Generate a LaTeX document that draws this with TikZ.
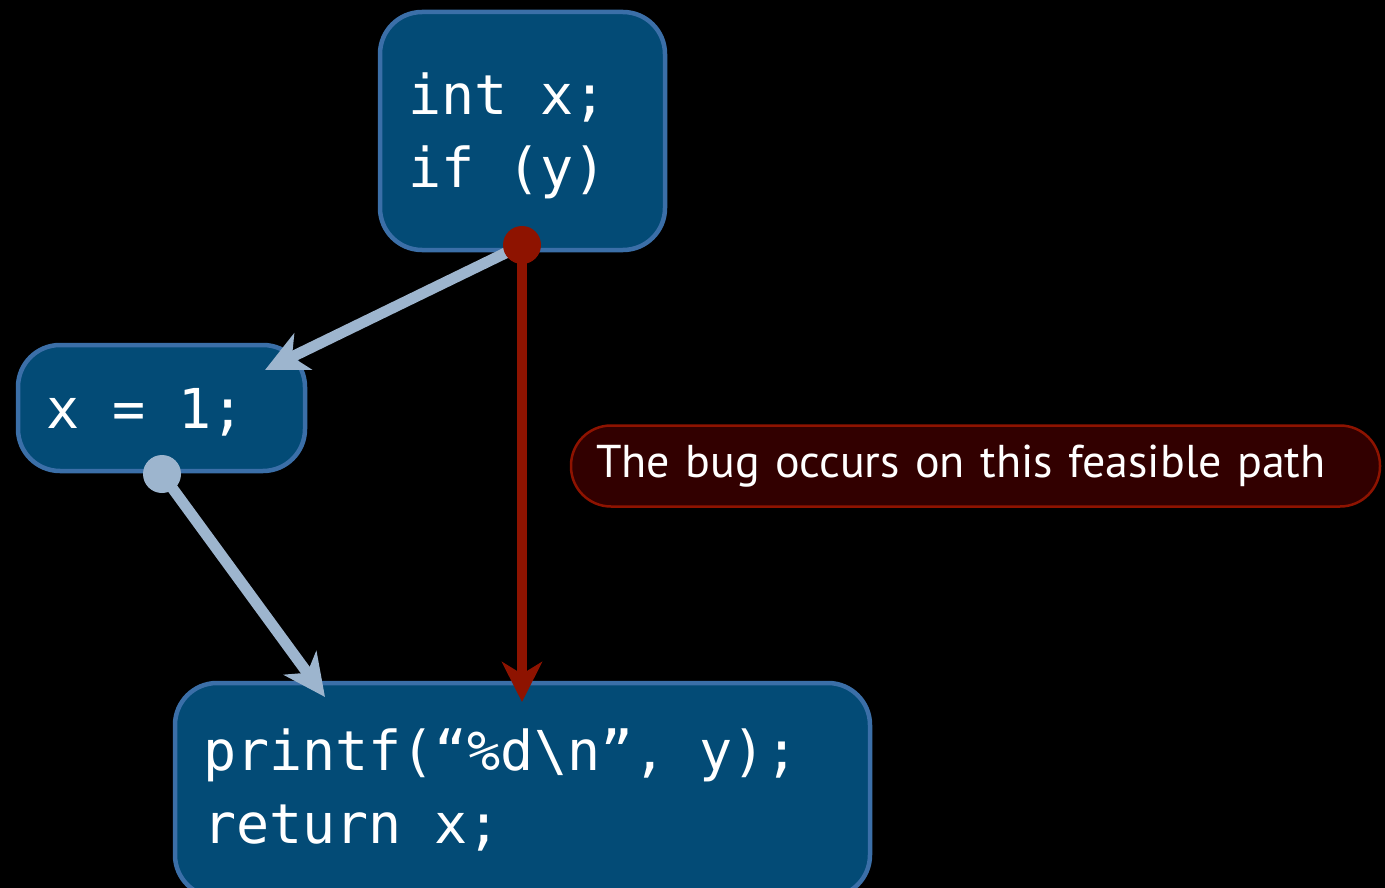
\documentclass[tikz,border=0pt]{standalone}
\usepackage{fontspec}
\usepackage{tikz}
\usetikzlibrary{arrows.meta}
\newfontfamily\codefont{DejaVu Sans Mono}
\newfontfamily\notefont{PT Sans}
\definecolor{boxfill}{RGB}{3,75,118}
\definecolor{boxedge}{RGB}{59,111,168}
\definecolor{flowblue}{RGB}{157,181,206}
\definecolor{bugred}{RGB}{142,19,0}
\definecolor{notefill}{RGB}{50,0,0}
\newcommand{\blank}{\hspace*{0.602em}}

\begin{document}
\begin{tikzpicture}[x=1pt,y=-1pt]
      \fill[black] (0,0) rectangle (1385,888);
      \useasboundingbox (0,0) rectangle (1385,888);
      \tikzstyle {codebox} = [shape=rectangle, rounded corners=42pt, draw=boxedge, line width=4.5pt, fill=boxfill, text=white, align=left, inner ysep=0pt, inner xsep=28pt, font=\codefont\fontsize{55}{73}\selectfont];
      \tikzstyle {flow} = [draw=flowblue, line width=11pt, -{Stealth[length=42pt,width=40pt,inset=12pt]}];
      \tikzstyle {bugflow} = [draw=bugred, line width=10pt, -{Stealth[length=40pt,width=40pt,inset=12pt]}];
      \tikzstyle {dot} = [shape=circle, inner sep=0pt, minimum size=38pt];
      \node (entry) [codebox, minimum width=285pt, minimum height=238pt, text width=229pt, text height=60pt, text depth=92pt] at (522.5,131) {int\blank x;\\if\blank (y)};
      \node (assign) [codebox, minimum width=287pt, minimum height=126pt, text width=231pt, text height=52pt, text depth=12pt] at (161.5,408) {x\blank =\blank 1;};
      \node (exit) [codebox, minimum width=695pt, minimum height=214pt, text width=639pt, text height=60pt, text depth=100pt] at (522.5,790) {printf(“\%d\textbackslash n”,\blank y);\\return\blank x;};
      \node (note) [shape=rectangle, rounded corners=40pt, draw=bugred, line width=2.5pt, fill=notefill, text=white, minimum width=809pt, minimum height=81pt, inner xsep=25pt, text width=759pt, align=left, font=\notefont\fontsize{46}{55}\selectfont] at (975.5,466) {The bug occurs on this feasible path};
      \coordinate (assigntip) at (265,370);
      \coordinate (exittip) at (325,697);
      \coordinate (bugtip) at (522,702);
      \node (ydot) [dot] at (522,245) {};
      \node (xdot) [dot] at (162,474) {};
      \draw [flow] (ydot.center) -- (assigntip);
      \draw [flow] (xdot.center) -- (exittip);
      \draw [bugflow] (ydot.center) -- (bugtip);
      \fill [bugred] (ydot) circle (19pt);
      \fill [flowblue] (xdot) circle (19pt);
    \end{tikzpicture}
\end{document}
